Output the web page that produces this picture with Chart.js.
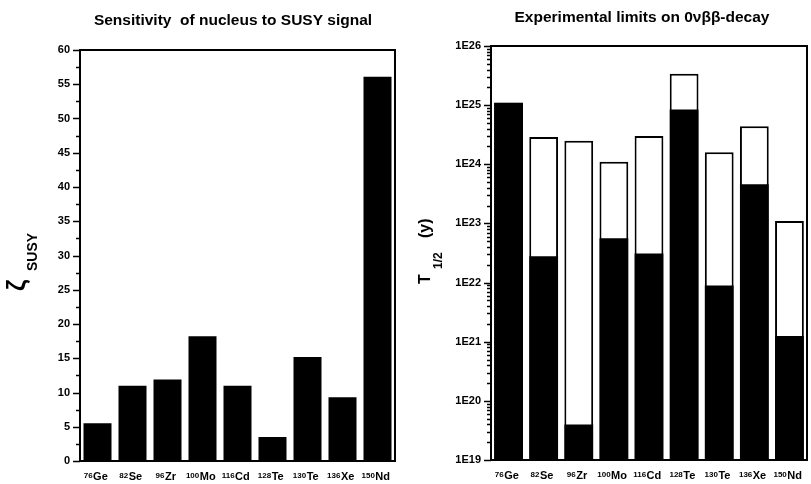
<!DOCTYPE html>
<html>
<head>
<meta charset="utf-8">
<script src="https://cdn.jsdelivr.net/npm/chart.js@4/dist/chart.umd.min.js"></script>
<style>
    html, body { margin: 0; padding: 0; background: #fff; }
    #wrap { position: relative; width: 811px; height: 484px; }
    .pane { position: absolute; top: 0; height: 484px; }
    #pane-left { left: 0; width: 405px; }
    #pane-right { left: 405px; width: 406px; }
</style>
</head>
<body>
<div id="wrap">
    <div class="pane" id="pane-left"><canvas id="sens-chart"></canvas></div>
    <div class="pane" id="pane-right"><canvas id="limit-chart"></canvas></div>
</div>
<script>
// isotopes on the x axis
const massNumbers = ['76', '82', '96', '100', '116', '128', '130', '136', '150'];
const elements = ['Ge', 'Se', 'Zr', 'Mo', 'Cd', 'Te', 'Te', 'Xe', 'Nd'];
const isotopes = massNumbers.map((m, i) => m + elements[i]);

// left panel: zeta_SUSY
const zetaSusy = [5.5, 11.0, 11.9, 18.2, 11.0, 3.5, 15.2, 9.3, 56.1];
const zetaTicks = [0, 5, 10, 15, 20, 25, 30, 35, 40, 45, 50, 55, 60];

// right panel: T1/2 limits (white box top) and reached part (black)
const halfLifeTop = [1.1e25, 2.9e24, 2.5e24, 1.1e24, 3.0e24, 3.4e25, 1.6e24, 4.4e24, 1.1e23];
const halfLifeFilled = [1.1e25, 2.8e22, 4.0e19, 5.6e22, 3.1e22, 8.4e24, 8.9e21, 4.6e23, 1.25e21];
const logTickLabels = ['1E19', '1E20', '1E21', '1E22', '1E23', '1E24', '1E25', '1E26'];
const logTicks = logTickLabels.map(Number);

const FONT = '"Liberation Sans", Arial, sans-serif';

function drawFrame(chart) {
    const { ctx, chartArea: a } = chart;
    ctx.save();
    ctx.strokeStyle = '#000';
    ctx.lineWidth = 2;
    ctx.strokeRect(a.left, a.top, a.right - a.left, a.bottom - a.top);
    ctx.restore();
}

function drawYTicks(chart, majors, minors) {
    const { ctx, chartArea: a } = chart;
    const y = chart.scales.y;
    ctx.save();
    ctx.strokeStyle = '#000';
    ctx.lineWidth = 1.5;
    ctx.beginPath();
    majors.forEach(v => {
        const p = Math.round(y.getPixelForValue(v)) + 0.5;
        ctx.moveTo(a.left - 7, p);
        ctx.lineTo(a.left, p);
    });
    minors.forEach(v => {
        const p = Math.round(y.getPixelForValue(v)) + 0.5;
        ctx.moveTo(a.left - 4, p);
        ctx.lineTo(a.left, p);
    });
    ctx.stroke();
    ctx.restore();
}

function drawIsotopeLabels(chart) {
    const { ctx } = chart;
    const x = chart.scales.x;
    const base = chart.chartArea.bottom + 19;
    ctx.save();
    ctx.fillStyle = '#000';
    ctx.textAlign = 'left';
    ctx.textBaseline = 'alphabetic';
    isotopes.forEach((_, i) => {
        ctx.font = 'bold 8px ' + FONT;
        const wSup = ctx.measureText(massNumbers[i]).width;
        ctx.font = 'bold 11px ' + FONT;
        const wEl = ctx.measureText(elements[i]).width;
        const start = x.getPixelForValue(i) - (wSup + wEl) / 2 - 2;
        ctx.font = 'bold 8px ' + FONT;
        ctx.fillText(massNumbers[i], start, base - 2.5);
        ctx.font = 'bold 11px ' + FONT;
        ctx.fillText(elements[i], start + wSup + 0.5, base);
    });
    ctx.restore();
}

function drawTitle(chart, text, cx, baseline) {
    const { ctx } = chart;
    ctx.save();
    ctx.fillStyle = '#000';
    ctx.font = 'bold 15.5px ' + FONT;
    ctx.textAlign = 'center';
    ctx.textBaseline = 'alphabetic';
    ctx.fillText(text, cx, baseline);
    ctx.restore();
}

// rotated text pieces: [text, font, u (along text), v (baseline offset)]
function drawRotated(chart, px, py, pieces) {
    const { ctx } = chart;
    ctx.save();
    ctx.fillStyle = '#000';
    ctx.translate(px, py);
    ctx.rotate(-Math.PI / 2);
    ctx.textAlign = 'left';
    ctx.textBaseline = 'alphabetic';
    pieces.forEach(([t, f, u, v]) => {
        ctx.font = f;
        ctx.fillText(t, u, v);
    });
    ctx.restore();
}

const sensDeco = {
    id: 'sensDeco',
    afterDraw(chart) {
        drawFrame(chart);
        const minors = zetaTicks.slice(1).map(v => v - 2.5);
        drawYTicks(chart, zetaTicks, minors);
        drawIsotopeLabels(chart);
        drawTitle(chart, 'Sensitivity  of nucleus to SUSY signal', 233, 25);
        drawRotated(chart, 25, 291, [
            ['ζ', 'bold 25px ' + FONT, 0, 0],
            ['SUSY', 'bold 14px ' + FONT, 20, 12]
        ]);
    }
};

const limitDeco = {
    id: 'limitDeco',
    afterDraw(chart) {
        drawFrame(chart);
        const minors = [];
        logTicks.slice(0, -1).forEach(d => {
            for (let k = 2; k <= 9; k++) minors.push(d * k);
        });
        drawYTicks(chart, logTicks, minors);
        drawIsotopeLabels(chart);
        drawTitle(chart, 'Experimental limits on 0νββ-decay', 237, 22);
        drawRotated(chart, 25, 284, [
            ['T', 'bold 16px ' + FONT, 0, 0],
            ['1/2', 'bold 12px ' + FONT, 15, 12],
            ['(y)', 'bold 16px ' + FONT, 46, 0]
        ]);
    }
};

const xAxis = (height) => ({
    type: 'category',
    offset: true,
    grid: { display: false, drawTicks: false },
    border: { display: false },
    ticks: { display: false },
    afterFit: (s) => { s.height = height; }
});

new Chart(document.getElementById('sens-chart'), {
    type: 'bar',
    data: {
        labels: isotopes,
        datasets: [{
            label: 'ζ SUSY',
            data: zetaSusy,
            backgroundColor: '#000',
            borderWidth: 0,
            barPercentage: 0.8,
            categoryPercentage: 1.0
        }]
    },
    options: {
        responsive: true,
        maintainAspectRatio: false,
        animation: false,
        layout: { padding: { top: 50, right: 10, bottom: 0, left: 0 } },
        plugins: { legend: { display: false }, tooltip: { enabled: false } },
        scales: {
            x: xAxis(23),
            y: {
                min: 0,
                max: 60,
                grid: { display: false, drawTicks: false },
                border: { display: false },
                afterBuildTicks: (s) => { s.ticks = zetaTicks.map(v => ({ value: v })); },
                ticks: {
                    padding: 10,
                    color: '#000',
                    font: { family: FONT, size: 11, weight: 'bold' }
                },
                afterFit: (s) => { s.width = 80; }
            }
        }
    },
    plugins: [sensDeco]
});

new Chart(document.getElementById('limit-chart'), {
    type: 'bar',
    data: {
        labels: isotopes,
        datasets: [{
            label: 'reached',
            data: halfLifeFilled.map(v => [logTicks[0], v]),
            backgroundColor: '#000',
            borderWidth: 0,
            grouped: false,
            barPercentage: 0.82,
            categoryPercentage: 1.0
        }, {
            label: 'limit',
            data: halfLifeTop.map(v => [logTicks[0], v]),
            backgroundColor: '#fff',
            borderColor: '#000',
            borderWidth: 2,
            borderSkipped: false,
            grouped: false,
            barPercentage: 0.82,
            categoryPercentage: 1.0
        }]
    },
    options: {
        responsive: true,
        maintainAspectRatio: false,
        animation: false,
        layout: { padding: { top: 46, right: 4, bottom: 0, left: 0 } },
        plugins: { legend: { display: false }, tooltip: { enabled: false } },
        scales: {
            x: xAxis(24),
            y: {
                type: 'logarithmic',
                min: logTicks[0],
                max: logTicks[logTicks.length - 1],
                grid: { display: false, drawTicks: false },
                border: { display: false },
                afterBuildTicks: (s) => { s.ticks = logTicks.map(v => ({ value: v })); },
                ticks: {
                    padding: 10,
                    color: '#000',
                    font: { family: FONT, size: 11, weight: 'bold' },
                    callback: (v, i) => logTickLabels[i]
                },
                afterFit: (s) => { s.width = 86; }
            }
        }
    },
    plugins: [limitDeco]
});
</script>
</body>
</html>
